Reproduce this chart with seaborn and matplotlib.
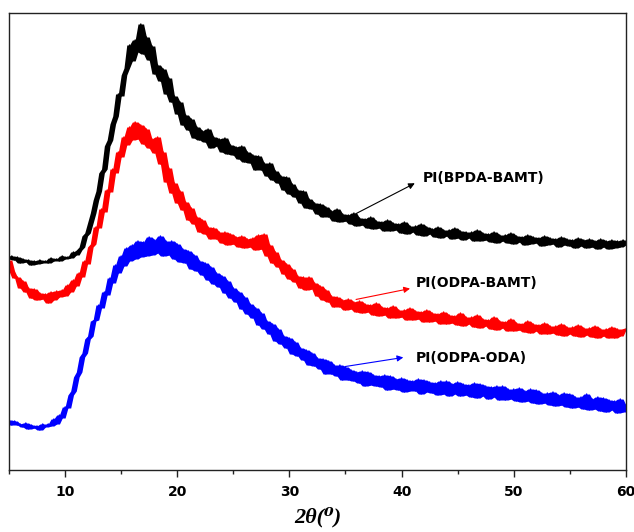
import numpy as np
import pandas as pd
import seaborn as sns
import matplotlib.pyplot as plt
from matplotlib.ticker import MultipleLocator

# XRD patterns of the three polyimide films (arbitrary intensity units)
# scan grid: 5-60 deg, 0.25 deg step
two_theta = np.linspace(5, 60, 221)

bpda_bamt = [
    211, 214, 210, 213, 207, 211, 208, 210, 205, 209, 206, 210,
    207, 209, 207, 212, 209, 211, 209, 214, 211, 213, 212, 218,
    215, 220, 223, 234, 237, 247, 257, 270, 279, 297, 301, 324,
    330, 346, 354, 376, 374, 395, 402, 425, 409, 430, 418, 446,
    416, 433, 410, 424, 396, 405, 389, 401, 376, 392, 368, 374,
    356, 368, 345, 355, 340, 351, 332, 343, 330, 339, 328, 341,
    322, 333, 324, 331, 318, 332, 316, 325, 315, 323, 311, 324,
    308, 318, 307, 315, 300, 314, 300, 307, 294, 307, 290, 299,
    287, 294, 280, 293, 276, 286, 273, 280, 267, 279, 262, 271,
    261, 267, 256, 266, 253, 263, 253, 259, 249, 261, 248, 256,
    249, 255, 246, 257, 244, 252, 245, 251, 242, 253, 241, 249,
    242, 248, 239, 250, 239, 247, 240, 246, 237, 248, 236, 244,
    238, 244, 235, 246, 234, 243, 236, 241, 233, 243, 232, 240,
    234, 240, 231, 242, 232, 239, 230, 238, 232, 238, 229, 240,
    229, 237, 230, 236, 228, 238, 227, 235, 229, 235, 227, 237,
    226, 234, 228, 233, 225, 235, 226, 233, 227, 232, 224, 234,
    225, 232, 226, 231, 223, 233, 225, 231, 224, 230, 222, 232,
    224, 230, 222, 231, 223, 229, 221, 231, 223, 229, 221, 230,
    222, 229, 223, 230, 225,
]

odpa_bamt = [
    210, 199, 192, 193, 182, 189, 178, 182, 172, 181, 170, 177,
    171, 176, 167, 178, 170, 179, 173, 180, 174, 185, 178, 190,
    184, 197, 193, 209, 206, 223, 226, 243, 242, 261, 258, 280,
    278, 301, 297, 318, 313, 333, 325, 343, 330, 348, 331, 345,
    326, 341, 322, 331, 317, 333, 306, 318, 288, 302, 277, 287,
    267, 279, 260, 268, 250, 262, 246, 253, 238, 250, 236, 243,
    231, 242, 231, 238, 227, 238, 225, 236, 226, 233, 223, 234,
    222, 231, 223, 232, 220, 235, 221, 236, 214, 225, 207, 218,
    203, 210, 196, 206, 191, 201, 188, 194, 182, 193, 180, 193,
    181, 187, 174, 184, 170, 180, 168, 174, 163, 173, 163, 170,
    160, 171, 161, 168, 158, 169, 157, 166, 158, 165, 155, 167,
    154, 163, 155, 162, 152, 164, 152, 160, 153, 160, 150, 162,
    150, 159, 151, 158, 148, 160, 148, 157, 149, 156, 146, 158,
    146, 155, 147, 154, 145, 157, 144, 153, 146, 153, 143, 155,
    142, 151, 144, 150, 141, 153, 140, 149, 142, 148, 139, 151,
    139, 147, 140, 146, 138, 149, 137, 146, 139, 145, 136, 147,
    136, 144, 137, 144, 135, 146, 134, 143, 136, 143, 134, 145,
    133, 142, 135, 142, 133, 144, 132, 141, 134, 141, 132, 143,
    132, 141, 134, 140, 141,
]

odpa_oda = [
    50, 45, 49, 45, 46, 43, 47, 41, 45, 42, 44, 40,
    46, 43, 46, 44, 51, 46, 55, 52, 63, 62, 75, 79,
    93, 98, 113, 117, 131, 134, 149, 150, 165, 162, 178, 175,
    192, 187, 205, 197, 214, 204, 222, 209, 225, 211, 229, 213,
    228, 214, 233, 215, 230, 217, 234, 214, 229, 215, 229, 211,
    226, 208, 221, 207, 219, 201, 215, 199, 209, 195, 207, 190,
    203, 186, 197, 183, 194, 177, 189, 172, 182, 168, 178, 161,
    173, 156, 166, 152, 162, 145, 157, 141, 149, 136, 146, 129,
    141, 126, 134, 122, 132, 116, 128, 114, 122, 110, 120, 105,
    117, 104, 112, 101, 111, 96, 109, 96, 105, 94, 105, 90,
    103, 90, 100, 89, 98, 87, 99, 84, 98, 85, 95, 84,
    94, 83, 95, 80, 94, 81, 91, 80, 92, 78, 90, 79,
    89, 79, 91, 76, 90, 78, 88, 77, 87, 75, 89, 76,
    89, 74, 86, 76, 88, 74, 86, 75, 85, 73, 87, 72,
    86, 74, 84, 71, 83, 73, 84, 70, 84, 70, 81, 71,
    81, 69, 82, 68, 79, 69, 81, 67, 80, 66, 77, 67,
    77, 65, 78, 64, 75, 65, 77, 63, 76, 62, 73, 63,
    73, 61, 76, 60, 71, 61, 73, 59, 72, 58, 70, 60,
    69, 57, 71, 58, 65,
]

names = ['PI(BPDA-BAMT)', 'PI(ODPA-BAMT)', 'PI(ODPA-ODA)']
colors = ['black', 'red', 'blue']

sns.set_style('ticks')
fig = plt.figure(figsize=(6.34, 5.32), dpi=100)
ax = fig.add_axes([0.0142, 0.1165, 0.973, 0.8591])

for ys, c in zip([bpda_bamt, odpa_bamt, odpa_oda], colors):
    s = pd.Series(ys, dtype=float)
    lo = s.rolling(3, center=True, min_periods=1).min()
    hi = s.rolling(3, center=True, min_periods=1).max()
    ax.fill_between(two_theta, lo, hi, color=c, lw=0)
    sns.lineplot(x=two_theta, y=ys, color=c, lw=1.0, estimator=None, ax=ax)

# labels with arrows (arrow tail on curve, head at text)
labels = [
    (names[0], (35.7, 255), (41.4, 288), (41.9, 292), 'black'),
    (names[1], (35.7, 170), (41.0, 182), (41.3, 187), 'red'),
    (names[2], (34.7, 103), (40.4, 113), (41.3, 112), 'blue'),
]
for txt, tail, head, pos, c in labels:
    ax.annotate('', xy=head, xytext=tail,
                arrowprops=dict(arrowstyle='-|>', color=c, lw=0.8, mutation_scale=9))
    ax.text(pos[0], pos[1], txt, fontsize=10, fontweight='bold', color='black',
            family='DejaVu Sans', va='center', ha='left')

ax.set_xlim(5, 60)
ax.set_ylim(0, 457)
ax.xaxis.set_major_locator(MultipleLocator(10))
ax.xaxis.set_minor_locator(MultipleLocator(5))
ax.tick_params(axis='x', which='major', direction='out', length=5, width=1, pad=5.5,
               colors='#222222', labelcolor='black')
ax.tick_params(axis='x', which='minor', direction='out', length=3, width=1, colors='#222222')
ax.set_yticks([])
for lab in ax.get_xticklabels():
    lab.set_fontweight('bold')
    lab.set_fontsize(10)
    lab.set_family('DejaVu Sans')
for s in ax.spines.values():
    s.set_visible(True)
    s.set_color('#222222')
    s.set_linewidth(1)

ax.set_xlabel('2θ(⁰)', fontsize=16, fontweight='bold', style='italic', color='black',
              family=['Liberation Serif', 'DejaVu Serif'], labelpad=6)

fig.savefig('out.png', dpi=100)
